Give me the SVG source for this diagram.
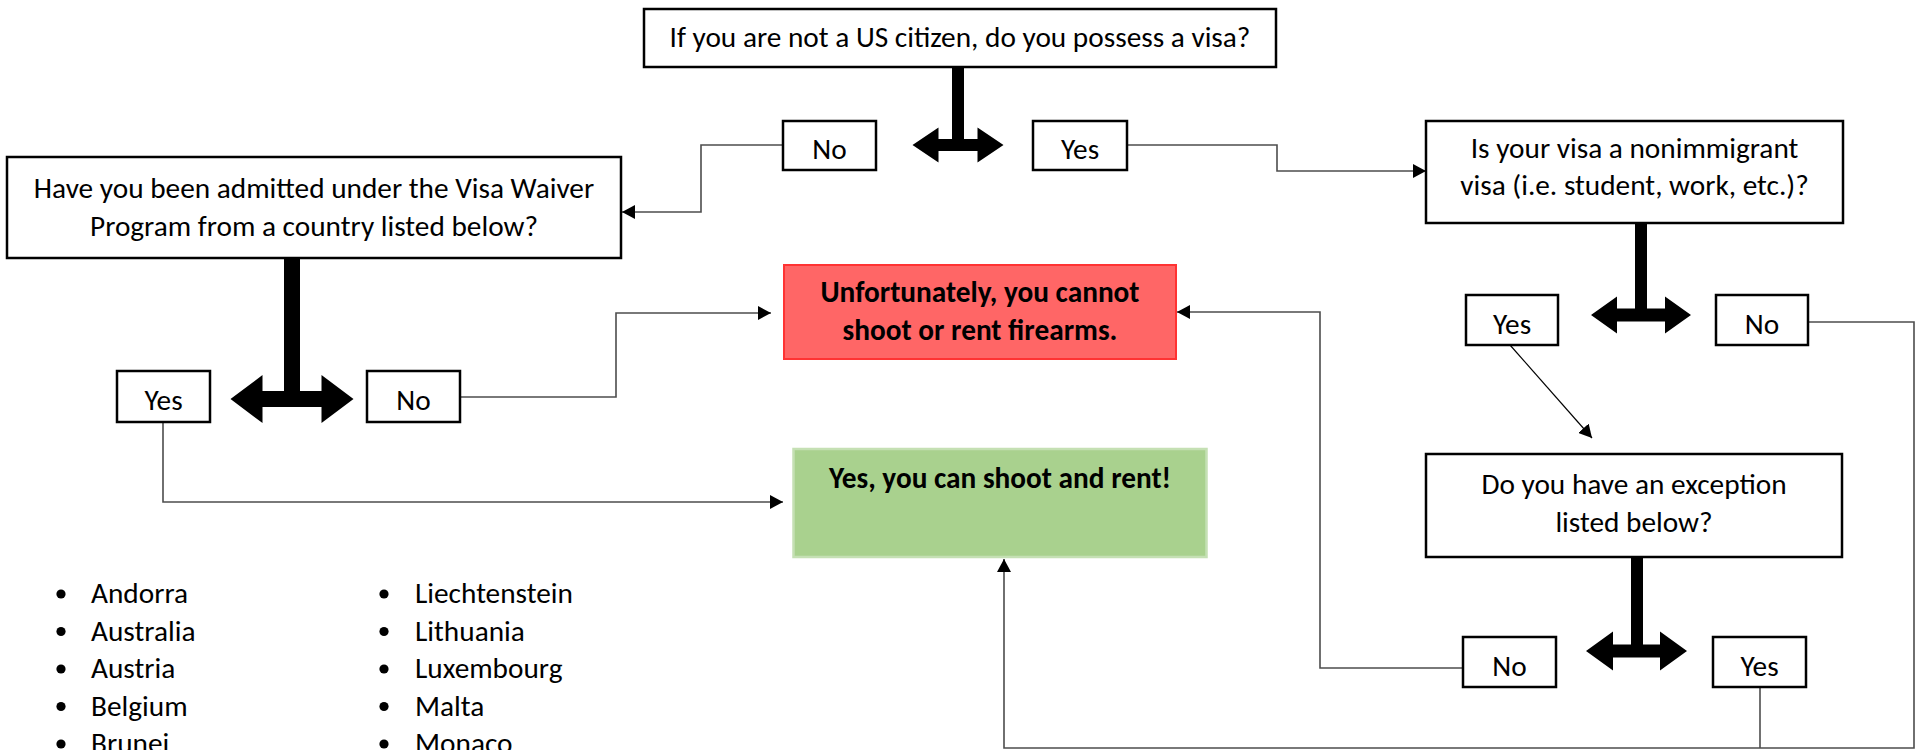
<svg xmlns="http://www.w3.org/2000/svg" width="1919" height="750" viewBox="0 0 1919 750">
<style>
text{font-family:Carlito,Calibri,Lato,"Liberation Sans",sans-serif;font-size:29.3px;fill:#000;text-anchor:middle}
.b{font-weight:bold}
.l{text-anchor:start}
.box{fill:#fff;stroke:#000;stroke-width:2.5}
.conn{fill:none;stroke:#4d4d4d;stroke-width:1.6}
.thin{fill:none;stroke:#000;stroke-width:1.2}
.tarrow{fill:#000;stroke:none}
</style>
<defs>
<marker id="ah" markerUnits="userSpaceOnUse" markerWidth="14" markerHeight="14" refX="13" refY="7" orient="auto">
<path d="M0,0 L13,7 L0,14 Z" fill="#000"/>
</marker>
</defs>
<rect width="1919" height="750" fill="#fff"/>

<g id="connectors">
<polyline class="conn" points="783,145 701,145 701,212 622,212" marker-end="url(#ah)"/>
<polyline class="conn" points="1127,145 1277,145 1277,171 1426,171" marker-end="url(#ah)"/>
<polyline class="conn" points="460,397 616,397 616,313 771,313" marker-end="url(#ah)"/>
<polyline class="conn" points="163,422 163,502 783,502" marker-end="url(#ah)"/>
<polyline class="conn" points="1463,668 1320,668 1320,312 1177,312" marker-end="url(#ah)"/>
<polyline class="conn" points="1808,322 1914,322 1914,748 1004,748 1004,559" marker-end="url(#ah)"/>
<line class="conn" x1="1760" y1="687" x2="1760" y2="748"/>
<line class="thin" x1="1510" y1="345" x2="1592" y2="438" marker-end="url(#ah)"/>
<path class="tarrow" d="M952,67 L964,67 L964,139 L977.5,139 L977.5,127.5 L1003.5,145 L977.5,162.5 L977.5,151 L938.5,151 L938.5,162.5 L912.5,145 L938.5,127.5 L938.5,139 L952,139 Z"/>
<path class="tarrow" d="M284,258 L300,258 L300,391 L321.5,391 L321.5,375 L353.5,399 L321.5,423 L321.5,407 L262.5,407 L262.5,423 L230.5,399 L262.5,375 L262.5,391 L284,391 Z"/>
<path class="tarrow" d="M1635,223 L1647,223 L1647,308.5 L1665,308.5 L1665,296.5 L1691,315 L1665,333.5 L1665,321.5 L1617,321.5 L1617,333.5 L1591,315 L1617,296.5 L1617,308.5 L1635,308.5 Z"/>
<path class="tarrow" d="M1631,557 L1643,557 L1643,644.5 L1660,644.5 L1660,631.5 L1687,651 L1660,670.5 L1660,657.5 L1613,657.5 L1613,670.5 L1586,651 L1613,631.5 L1613,644.5 L1631,644.5 Z"/>
</g>

<g id="q-visa">
<rect class="box" x="644" y="9" width="632" height="58"/>
<text x="960" y="47">If you are not a US citizen, do you possess a visa?</text>
</g>
<g id="no-1">
<rect class="box" x="783" y="121" width="93" height="49"/>
<text x="829.5" y="159">No</text>
</g>
<g id="yes-1">
<rect class="box" x="1033" y="121" width="94" height="49"/>
<text x="1080" y="159">Yes</text>
</g>
<g id="q-waiver">
<rect class="box" x="7" y="157" width="614" height="101"/>
<text x="314" y="198">Have you been admitted under the Visa Waiver</text>
<text x="314" y="236">Program from a country listed below?</text>
</g>
<g id="yes-2">
<rect class="box" x="117" y="371" width="93" height="51"/>
<text x="163.5" y="410">Yes</text>
</g>
<g id="no-2">
<rect class="box" x="367" y="371" width="93" height="51"/>
<text x="413.5" y="410">No</text>
</g>
<g id="q-nonimmigrant">
<rect class="box" x="1426" y="121" width="417" height="102"/>
<text x="1634.5" y="158">Is your visa a nonimmigrant</text>
<text x="1634.5" y="195">visa (i.e. student, work, etc.)?</text>
</g>
<g id="yes-3">
<rect class="box" x="1466" y="295" width="92" height="50"/>
<text x="1512" y="334">Yes</text>
</g>
<g id="no-3">
<rect class="box" x="1716" y="295" width="92" height="50"/>
<text x="1762" y="334">No</text>
</g>
<g id="q-exception">
<rect class="box" x="1426" y="454" width="416" height="103"/>
<text x="1634" y="494">Do you have an exception</text>
<text x="1634" y="532">listed below?</text>
</g>
<g id="no-4">
<rect class="box" x="1463" y="637" width="93" height="50"/>
<text x="1509.5" y="676">No</text>
</g>
<g id="yes-4">
<rect class="box" x="1713" y="637" width="93" height="50"/>
<text x="1759.5" y="676">Yes</text>
</g>
<g id="result-no">
<rect x="784" y="265" width="392" height="94" fill="#ff6666" stroke="#ff3333" stroke-width="2"/>
<text class="b" x="980" y="302">Unfortunately, you cannot</text>
<text class="b" x="980" y="340">shoot or rent firearms.</text>
</g>
<g id="result-yes">
<rect x="793.5" y="449" width="413" height="108" fill="#a9d18e" stroke="#c5e0b4" stroke-width="2.5"/>
<text class="b" x="1000" y="488">Yes, you can shoot and rent!</text>
</g>
<g id="country-list">
<circle cx="61" cy="594" r="4.6"/>
<circle cx="61" cy="631.5" r="4.6"/>
<circle cx="61" cy="669" r="4.6"/>
<circle cx="61" cy="706.5" r="4.6"/>
<circle cx="61" cy="744" r="4.6"/>
<text class="l" x="91" y="603">Andorra</text>
<text class="l" x="91" y="640.5">Australia</text>
<text class="l" x="91" y="678">Austria</text>
<text class="l" x="91" y="715.5">Belgium</text>
<text class="l" x="91" y="753">Brunei</text>
<circle cx="384" cy="594" r="4.6"/>
<circle cx="384" cy="631.5" r="4.6"/>
<circle cx="384" cy="669" r="4.6"/>
<circle cx="384" cy="706.5" r="4.6"/>
<circle cx="384" cy="744" r="4.6"/>
<text class="l" x="415" y="603">Liechtenstein</text>
<text class="l" x="415" y="640.5">Lithuania</text>
<text class="l" x="415" y="678">Luxembourg</text>
<text class="l" x="415" y="715.5">Malta</text>
<text class="l" x="415" y="753">Monaco</text>
</g>
</svg>
